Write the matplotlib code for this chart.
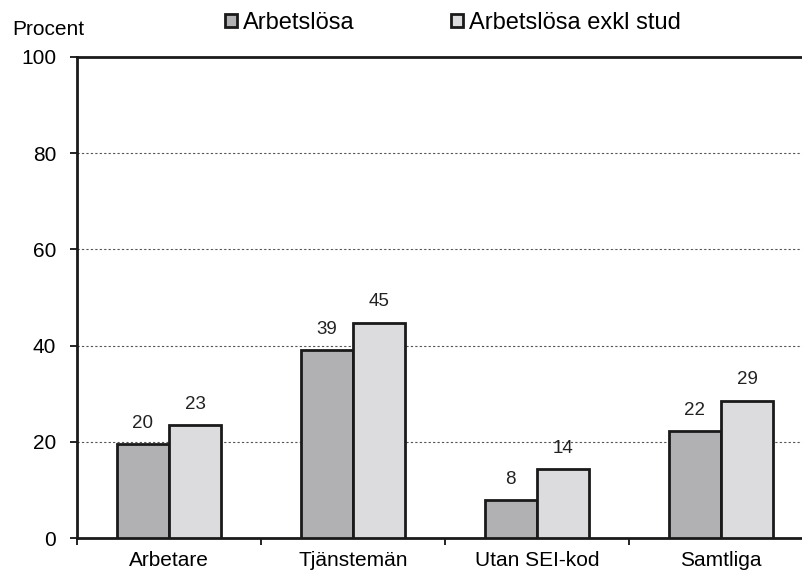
import matplotlib.pyplot as plt
import numpy as np

plt.rcParams['font.family'] = ['Liberation Sans', 'DejaVu Sans']

categories = ['Arbetare', 'Tjänstemän', 'Utan SEI-kod', 'Samtliga']
arbetslosa = [19.5, 39.0, 7.9, 22.2]
arbetslosa_exkl = [23.4, 44.8, 14.3, 28.5]
labels_a = ['20', '39', '8', '22']
labels_b = ['23', '45', '14', '29']

fig = plt.figure(figsize=(8.02, 5.73), dpi=100)
ax = fig.add_axes([77/802, 35/573, 736/802, 481/573])

x = np.arange(len(categories))
w = 0.285
b1 = ax.bar(x - w/2, arbetslosa, w, color='#b1b1b3', edgecolor='#1a1a1a', linewidth=2,
            label='Arbetslösa', zorder=3)
b2 = ax.bar(x + w/2, arbetslosa_exkl, w, color='#dcdcde', edgecolor='#1a1a1a', linewidth=2,
            label='Arbetslösa exkl stud', zorder=3)

for xi, v, t in zip(x - w/2, arbetslosa, labels_a):
    ax.annotate(t, (xi, v), xytext=(0, 9), textcoords='offset points',
                ha='center', va='bottom', fontsize=13.5, color='#222222')
for xi, v, t in zip(x + w/2, arbetslosa_exkl, labels_b):
    ax.annotate(t, (xi, v), xytext=(0, 9), textcoords='offset points',
                ha='center', va='bottom', fontsize=13.5, color='#222222')

ax.set_xlim(-0.5, len(categories) - 0.5)
ax.set_ylim(0, 100)
ax.set_yticks([0, 20, 40, 60, 80, 100])
ax.tick_params(axis='y', labelsize=15, length=5, width=1.2, pad=10)
ax.set_xticks(x)
ax.set_xticklabels(categories)
ax.set_xticks(np.arange(len(categories) + 1) - 0.5, minor=True)
ax.tick_params(axis='x', which='major', length=0, labelsize=15, pad=9)
ax.tick_params(axis='x', which='minor', length=5, width=1.2)

for yv in [20, 40, 60, 80]:
    ax.axhline(yv, color='#555555', linestyle=(0, (2, 2)), linewidth=0.8, zorder=1)

for s in ['left', 'bottom', 'top', 'right']:
    ax.spines[s].set_linewidth(2)
    ax.spines[s].set_color('#1a1a1a')

fig.text(12/802, 1 - 35/573, 'Procent', fontsize=15, va='baseline', ha='left')

fig.legend(handles=[b1, b2], loc='center left', bbox_to_anchor=(225/802, 1 - 23/573),
           ncol=2, frameon=False, fontsize=17, handlelength=0.5, handleheight=0.5,
           handletextpad=0.25, columnspacing=4.1, borderaxespad=0, borderpad=0)

fig.savefig('out.png', dpi=100)
